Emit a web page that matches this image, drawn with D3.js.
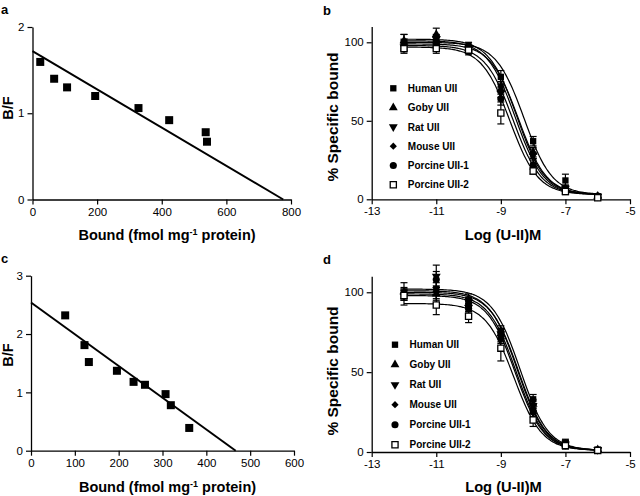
<!DOCTYPE html>
<html><head><meta charset="utf-8">
<script src="https://cdn.jsdelivr.net/npm/d3@7/dist/d3.min.js"></script>
<style>
body{margin:0;background:#fff}
svg{display:block}
text{font-family:"Liberation Sans",Arial,Helvetica,sans-serif;fill:#000}
</style>
</head><body>
<svg id="chart" width="640" height="496"></svg>
<script>
// ---------- Data ----------
// Panel a: Scatchard plot
const aBound = [24, 67, 107, 194, 328, 423, 536, 540];
const aBF    = [1.595, 1.40, 1.30, 1.20, 1.06, 0.92, 0.78, 0.67];
const aFitIntercepts = [1.72, 776];   // [B/F at Bound=0, Bound at B/F=0]
const aXTicks = [0, 200, 400, 600, 800];
const aYTicks = [0, 1, 2];

// Panel c: Scatchard plot
const cBound = [78, 122, 132, 196, 234, 260, 307, 319, 361];
const cBF    = [2.32, 1.81, 1.52, 1.37, 1.18, 1.13, 0.97, 0.78, 0.39];
const cFitIntercepts = [2.54, 467];
const cXTicks = [0, 100, 200, 300, 400, 500, 600];
const cYTicks = [0, 1, 2, 3];

// Panels b, d: competition binding
const seriesNames = ["Human UII", "Goby UII", "Rat UII", "Mouse UII", "Porcine UII-1", "Porcine UII-2"];
const logConc = [-12, -11, -10, -9, -8, -7, -6];
const logXTicks = [-13, -11, -9, -7, -5];
const pctYTicks = [0, 50, 100];

// panel b mean values and errors
const bHuman   = [100, 100, 98, 78, 37, 12, 2];
const bGoby    = [101, 105, 96, 70, 30, 7, 2];
const bRat     = [97, 102, 96, 68, 28, 7, 2];
const bMouse   = [99, 100, 95, 72, 29, 6, 2];
const bPorc1   = [98, 100, 94, 64, 22, 6, 2];
const bPorc2   = [96, 96, 95, 55, 18, 5, 1];
const bHumanErr = [5, 4, 2, 4, 3, 4, 1];
const bGobyErr  = [4, 4, 2, 3, 3, 2, 1];
const bRatErr   = [3, 3, 2, 3, 2, 2, 1];
const bMouseErr = [3, 3, 2, 3, 3, 2, 1];
const bPorc1Err = [3, 3, 2, 4, 3, 2, 1];
const bPorc2Err = [3, 3, 2, 7, 2, 2, 1];
// panel b fitted one-site curves
const bTop     = [100, 102, 101, 99, 98, 97];
const bBottom  = [3, 3, 3, 3, 3, 3];
const bLogIC50 = [-8.28, -8.50, -8.55, -8.45, -8.62, -8.72];

// panel d mean values and errors
const dHuman   = [99, 102, 95, 76, 33, 6, 1.5];
const dGoby    = [100, 99, 93, 74, 30, 5, 1.5];
const dRat     = [98, 110, 94, 74, 29, 5, 1.5];
const dMouse   = [99, 100, 91, 72, 27, 5, 1.5];
const dPorc1   = [99, 108, 90, 71, 25, 4, 1];
const dPorc2   = [98, 92, 85, 65, 20, 4, 1];
const dHumanErr = [7, 4, 4, 3, 3, 2, 1];
const dGobyErr  = [3, 4, 3, 3, 3, 2, 1];
const dRatErr   = [3, 7, 3, 3, 3, 2, 1];
const dMouseErr = [3, 4, 3, 3, 3, 2, 1];
const dPorc1Err = [3, 5, 3, 3, 3, 2, 1];
const dPorc2Err = [3, 6, 4, 8, 4, 2, 1];
const dTop     = [102, 100, 101, 99, 98, 93];
const dBottom  = [1, 1, 1, 1, 1, 1];
const dLogIC50 = [-8.40, -8.45, -8.48, -8.52, -8.55, -8.60];

// ---------- Drawing ----------
const svg = d3.select("#chart");
const FONT_TICK = "11.5px";

function styleAxis(g) {
  g.selectAll("path.domain").attr("stroke", "#000").attr("stroke-width", 1.3);
  g.selectAll(".tick line").attr("stroke", "#000").attr("stroke-width", 1.2);
  g.selectAll(".tick text").style("font-size", FONT_TICK).attr("fill", "#000");
}

function drawAxes(x, y, xTicks, yTicks, xTitle, yTitle, opts) {
  const g = svg.append("g");
  const xr = x.range(), yr = y.range();
  const gx = g.append("g").attr("transform", `translate(0,${yr[0]})`)
    .call(d3.axisBottom(x).tickValues(xTicks).tickSize(5).tickSizeOuter(0).tickPadding(3)
      .tickFormat(d => String(d)));
  styleAxis(gx);
  const gy = g.append("g").attr("transform", `translate(${xr[0]},0)`)
    .call(d3.axisLeft(y).tickValues(yTicks).tickSize(5).tickSizeOuter(0).tickPadding(3)
      .tickFormat(d => String(d)));
  styleAxis(gy);
  const xt = g.append("text").attr("x", opts.xTitleX).attr("y", opts.xTitleY)
    .attr("text-anchor", "middle").style("font-weight", "bold").style("font-size", opts.xTitleSize);
  xTitle(xt);
  g.append("text")
    .attr("transform", `translate(${opts.yTitleX},${opts.yTitleY}) rotate(-90)`)
    .attr("text-anchor", "middle").style("font-weight", "bold").style("font-size", opts.yTitleSize)
    .text(yTitle);
  g.append("text").attr("x", opts.labelX).attr("y", opts.labelY)
    .style("font-weight", "bold").style("font-size", "13px").text(opts.label);
}

function boundTitle(t) {
  t.append("tspan").text("Bound (fmol mg");
  t.append("tspan").attr("dy", -5).style("font-size", "9px").text("-1");
  t.append("tspan").attr("dy", 5).text(" protein)");
}
function logTitle(t) { t.text("Log (U-II)M"); }

function scatchard(xDomain, xRange, yDomain, yRange, xs, ys, fit, xTicks, yTicks, opts) {
  const x = d3.scaleLinear().domain(xDomain).range(xRange);
  const y = d3.scaleLinear().domain(yDomain).range(yRange);
  drawAxes(x, y, xTicks, yTicks, boundTitle, "B/F", opts);
  svg.append("line")
    .attr("x1", x(0)).attr("y1", y(fit[0]))
    .attr("x2", x(fit[1])).attr("y2", y(0))
    .attr("stroke", "#000").attr("stroke-width", 2);
  svg.append("g").selectAll("rect").data(xs).join("rect")
    .attr("x", (d, i) => x(d) - 4).attr("y", (d, i) => y(ys[i]) - 4)
    .attr("width", 8).attr("height", 8).attr("fill", "#000");
}

// symbols
const shapeDefs = [
  {type: d3.symbolSquare, rot: 0, fill: "#000", size: 40},
  {type: d3.symbolTriangle, rot: 0, fill: "#000", size: 34},
  {type: d3.symbolTriangle, rot: 180, fill: "#000", size: 34},
  {type: d3.symbolSquare, rot: 45, fill: "#000", size: 26},
  {type: d3.symbolCircle, rot: 0, fill: "#000", size: 40},
  {type: d3.symbolSquare, rot: 0, fill: "#fff", size: 38, open: true}
];
function drawSymbol(g, i, cx, cy) {
  const s = shapeDefs[i];
  g.append("path")
    .attr("d", d3.symbol().type(s.type).size(s.size)())
    .attr("transform", `translate(${cx},${cy}) rotate(${s.rot})`)
    .attr("fill", s.fill)
    .attr("stroke", s.open ? "#000" : "none")
    .attr("stroke-width", s.open ? 1.3 : 0);
}

function competition(xRange, yRange, series, errs, tops, bottoms, ic50s, opts) {
  const x = d3.scaleLinear().domain([-13, -5]).range(xRange);
  const y = d3.scaleLinear().domain([0, 110]).range(yRange);
  drawAxes(x, y, logXTicks, pctYTicks, logTitle, "% Specific bound", opts);
  // fitted curves
  const line = d3.line().x(d => x(d[0])).y(d => y(d[1])).curve(d3.curveBasis);
  const gc = svg.append("g");
  series.forEach((s, k) => {
    const pts = d3.range(-12, -5.999, 0.05).map(v =>
      [v, bottoms[k] + (tops[k] - bottoms[k]) / (1 + Math.pow(10, v - ic50s[k]))]);
    gc.append("path").attr("d", line(pts)).attr("fill", "none")
      .attr("stroke", "#000").attr("stroke-width", 1.2);
  });
  // error bars
  const ge = svg.append("g");
  series.forEach((s, k) => {
    s.forEach((v, i) => {
      const cx = x(logConc[i]), e = errs[k][i];
      const y1 = y(v + e), y2 = y(v - e);
      ge.append("line").attr("x1", cx).attr("x2", cx).attr("y1", y1).attr("y2", y2)
        .attr("stroke", "#000").attr("stroke-width", 1.2);
      ge.append("line").attr("x1", cx - 3.5).attr("x2", cx + 3.5).attr("y1", y1).attr("y2", y1)
        .attr("stroke", "#000").attr("stroke-width", 1.2);
      ge.append("line").attr("x1", cx - 3.5).attr("x2", cx + 3.5).attr("y1", y2).attr("y2", y2)
        .attr("stroke", "#000").attr("stroke-width", 1.2);
    });
  });
  // markers
  const gm = svg.append("g");
  series.forEach((s, k) => {
    s.forEach((v, i) => drawSymbol(gm, k, x(logConc[i]), y(v)));
  });
  // legend
  const gl = svg.append("g");
  seriesNames.forEach((name, k) => {
    const ly = opts.legY + k * opts.legStep;
    drawSymbol(gl, k, opts.legX, ly);
    gl.append("text").attr("x", opts.legX + 14.5).attr("y", ly + 3.6)
      .style("font-weight", "bold").style("font-size", "10px").text(name);
  });
}

// Panel a
scatchard([0, 800], [32.5, 291], [0, 2], [199.5, 27], aBound, aBF, aFitIntercepts, aXTicks, aYTicks,
  {xTitleX: 167, xTitleY: 239.5, xTitleSize: "14.5px", yTitleX: 12.5, yTitleY: 108, yTitleSize: "14.5px",
   labelX: 1, labelY: 13.5, label: "a"});
// Panel c
scatchard([0, 600], [31, 294], [0, 3], [450.7, 275.7], cBound, cBF, cFitIntercepts, cXTicks, cYTicks,
  {xTitleX: 167.5, xTitleY: 492, xTitleSize: "14.5px", yTitleX: 12.5, yTitleY: 355, yTitleSize: "14.5px",
   labelX: 1, labelY: 263, label: "c"});
// Panel b
competition([371.7, 630], [199.3, 26.6],
  [bHuman, bGoby, bRat, bMouse, bPorc1, bPorc2],
  [bHumanErr, bGobyErr, bRatErr, bMouseErr, bPorc1Err, bPorc2Err],
  bTop, bBottom, bLogIC50,
  {xTitleX: 503, xTitleY: 240, xTitleSize: "14.7px", yTitleX: 338, yTitleY: 117, yTitleSize: "15.5px",
   labelX: 323, labelY: 15, label: "b", legX: 393.3, legY: 88.3, legStep: 19.3});
// Panel d
competition([371.7, 630], [452, 276.3],
  [dHuman, dGoby, dRat, dMouse, dPorc1, dPorc2],
  [dHumanErr, dGobyErr, dRatErr, dMouseErr, dPorc1Err, dPorc2Err],
  dTop, dBottom, dLogIC50,
  {xTitleX: 503.5, xTitleY: 492.3, xTitleSize: "14.7px", yTitleX: 338, yTitleY: 371, yTitleSize: "15.5px",
   labelX: 323, labelY: 264, label: "d", legX: 395, legY: 344.7, legStep: 20});
</script>
</body></html>
